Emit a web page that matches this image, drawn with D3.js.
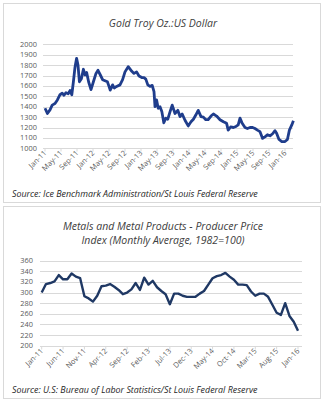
<!DOCTYPE html>
<html>
<head>
<meta charset="utf-8">
<script src="https://cdn.jsdelivr.net/npm/d3@7"></script>
<style>
  body { margin: 0; background: #ffffff; }
  svg { display: block; font-family: "Open Sans", Lato, sans-serif; }
</style>
</head>
<body>
<svg id="chart" width="324" height="400"></svg>
<script>
// gold: months since Jan-11, price in USD
const goldMonths = [0, 0.6, 1.25, 1.8, 2.5, 3.1, 3.75, 4.3, 4.75, 5.25, 5.8, 6.25, 6.7, 7.1, 7.5, 7.9, 8.25, 8.6, 9.1, 9.6,
  10, 10.4, 10.9, 11.5, 12.1, 12.75, 13.25, 13.9, 14.4, 15, 15.6, 16, 16.3, 16.9, 17.3, 17.9, 18.75, 19.4, 20, 20.8,
  21.7, 22.25, 22.9, 23.5, 24.2, 24.75, 25.2, 25.7, 26.25, 26.8, 27.25, 27.5, 27.9, 28.3, 28.75, 29.2, 29.7, 30.2, 30.7, 31.25,
  31.8, 32.5, 33.2, 33.75, 34.3, 35, 35.8, 36.5, 37.1, 37.7, 38.3, 39, 39.6, 40.2, 40.8, 41.5, 42.1, 42.9, 43.75, 44.6,
  45.4, 45.8, 46.4, 47.1, 47.75, 48.3, 48.75, 49.3, 50, 50.6, 51.25, 51.9, 52.5, 53.1, 53.75, 54.4, 55, 55.6, 56.25, 56.9,
  57.5, 57.9, 58.5, 59.2, 60, 60.6, 61.1, 61.7, 62.1];
const goldValues = [1385, 1335, 1370, 1415, 1430, 1465, 1515, 1530, 1510, 1535, 1525, 1555, 1515, 1640, 1780, 1865, 1800, 1640, 1670, 1760,
  1705, 1730, 1640, 1565, 1640, 1720, 1750, 1700, 1660, 1650, 1640, 1595, 1560, 1610, 1580, 1595, 1610, 1660, 1735, 1785,
  1740, 1720, 1735, 1695, 1680, 1680, 1665, 1610, 1595, 1605, 1545, 1400, 1465, 1385, 1400, 1355, 1245, 1290, 1280, 1350,
  1415, 1335, 1365, 1305, 1330, 1270, 1215, 1255, 1280, 1320, 1365, 1305, 1300, 1275, 1275, 1310, 1330, 1310, 1275, 1255,
  1240, 1175, 1205, 1200, 1210, 1225, 1290, 1240, 1200, 1190, 1200, 1200, 1190, 1175, 1160, 1095, 1110, 1130, 1120, 1140,
  1170, 1145, 1085, 1065, 1065, 1085, 1175, 1225, 1265];
const goldTickLabels = ['Jan-11', 'May-11', 'Sep-11', 'Jan-12', 'May-12', 'Sep-12', 'Jan-13', 'May-13',
  'Sep-13', 'Jan-14', 'May-14', 'Sep-14', 'Jan-15', 'May-15', 'Sep-15', 'Jan-16'];
const goldYTicks = [1000, 1100, 1200, 1300, 1400, 1500, 1600, 1700, 1800, 1900, 2000];

// metals PPI: monthly, Jan-11 .. Jan-16
const metalsValues = [300, 316, 318, 321, 333, 325, 325, 336, 330, 327,
  293, 289, 283, 294, 312, 313, 316, 311, 305, 297,
  300, 306, 318, 305, 328, 315, 322, 310, 303, 297,
  278, 298, 298, 294, 292, 292, 292, 298, 303, 315,
  327, 331, 333, 337, 330, 324, 315, 315, 314, 302,
  294, 298, 298, 292, 277, 262, 258, 280, 256, 245, 228];
const metalsTickLabels = ['Jan-11', 'Jun-11', 'Nov-11', 'Apr-12', 'Sep-12', 'Feb-13', 'Jul-13',
  'Dec-13', 'May-14', 'Oct-14', 'Mar-15', 'Aug-15', 'Jan-16'];
const metalsYTicks = [200, 220, 240, 260, 280, 300, 320, 340, 360];

const svg = d3.select('#chart');
const gridColor = '#d9d9d9';
const textColor = '#595959';

function drawPanel({ top, height, titles, titleY, source, sourceY }) {
    const g = svg.append('g');
    g.append('rect')
        .attr('x', 3.5).attr('y', top + 0.5)
        .attr('width', 317).attr('height', height)
        .attr('fill', '#fff').attr('stroke', gridColor);
    titles.forEach((t, i) => {
        g.append('text')
            .attr('x', 163).attr('y', titleY + i * 14)
            .attr('text-anchor', 'middle')
            .attr('font-size', 10.5).attr('font-style', 'italic')
            .attr('fill', '#404040').text(t);
    });
    g.append('text')
        .attr('x', 12).attr('y', sourceY)
        .attr('font-size', 8.9).attr('font-style', 'italic')
        .attr('fill', '#262626').text(source);
    return g;
}

function drawAxes(g, { x, y, yTicks, tickMonths, tickLabels, gridX0, gridX1, labelX }) {
    g.append('g').selectAll('line')
        .data(yTicks).join('line')
        .attr('x1', gridX0).attr('x2', gridX1)
        .attr('y1', (d) => Math.round(y(d)) + 0.5)
        .attr('y2', (d) => Math.round(y(d)) + 0.5)
        .attr('stroke', gridColor).attr('stroke-width', 1);
    g.append('g').selectAll('text')
        .data(yTicks).join('text')
        .attr('x', labelX).attr('y', (d) => y(d) + 2.5)
        .attr('text-anchor', 'end')
        .attr('font-size', 7.4).attr('fill', textColor)
        .text((d) => d);
    const y0 = Math.round(y(yTicks[0])) + 0.5;
    g.append('g').selectAll('line')
        .data(tickMonths).join('line')
        .attr('x1', (d) => x(d)).attr('x2', (d) => x(d))
        .attr('y1', y0).attr('y2', y0 + 3)
        .attr('stroke', gridColor);
    g.append('g').selectAll('text')
        .data(tickMonths).join('text')
        .attr('transform', (d) => `translate(${x(d) + 2},${y0 + 5}) rotate(-45)`)
        .attr('text-anchor', 'end')
        .attr('font-size', 7.4).attr('fill', textColor)
        .text((d, i) => tickLabels[i]);
}

/* s: gold */
const goldPanel = drawPanel({
    top: 3, height: 199,
    titles: ['Gold Troy Oz.:US Dollar'], titleY: 27,
    source: 'Source: Ice Benchmark Administration/St Louis Federal Reserve', sourceY: 197,
});
const goldX = d3.scaleLinear().domain([0, 60]).range([45, 285]);
const goldY = d3.scaleLinear().domain([1000, 2000]).range([148.3, 44.3]);
drawAxes(goldPanel, {
    x: goldX, y: goldY, yTicks: goldYTicks,
    tickMonths: goldTickLabels.map((d, i) => i * 4), tickLabels: goldTickLabels,
    gridX0: 43, gridX1: 293, labelX: 37,
});
goldPanel.append('path')
    .datum(goldMonths.map((m, i) => [m, goldValues[i]]))
    .attr('d', d3.line().x((d) => goldX(d[0])).y((d) => goldY(d[1])))
    .attr('fill', 'none').attr('stroke', '#1f3d8c')
    .attr('stroke-width', 2.8).attr('stroke-linejoin', 'round');
/* e: gold */

/* s: metals */
const metalsPanel = drawPanel({
    top: 206, height: 192,
    titles: ['Metals and Metal Products - Producer Price', 'Index (Monthly Average, 1982=100)'], titleY: 230,
    source: 'Source: U.S: Bureau of Labor Statistics/St Louis Federal Reserve', sourceY: 393,
});
const metalsX = d3.scaleLinear().domain([0, 60]).range([41.7, 298]);
const metalsY = d3.scaleLinear().domain([200, 360]).range([345.7, 260.7]);
drawAxes(metalsPanel, {
    x: metalsX, y: metalsY, yTicks: metalsYTicks,
    tickMonths: metalsTickLabels.map((d, i) => i * 5), tickLabels: metalsTickLabels,
    gridX0: 40, gridX1: 302, labelX: 33,
});
metalsPanel.append('path')
    .datum(metalsValues)
    .attr('d', d3.line().x((d, i) => metalsX(i)).y((d) => metalsY(d)))
    .attr('fill', 'none').attr('stroke', '#1f3864')
    .attr('stroke-width', 2.4).attr('stroke-linejoin', 'round');
/* e: metals */
</script>
</body>
</html>
